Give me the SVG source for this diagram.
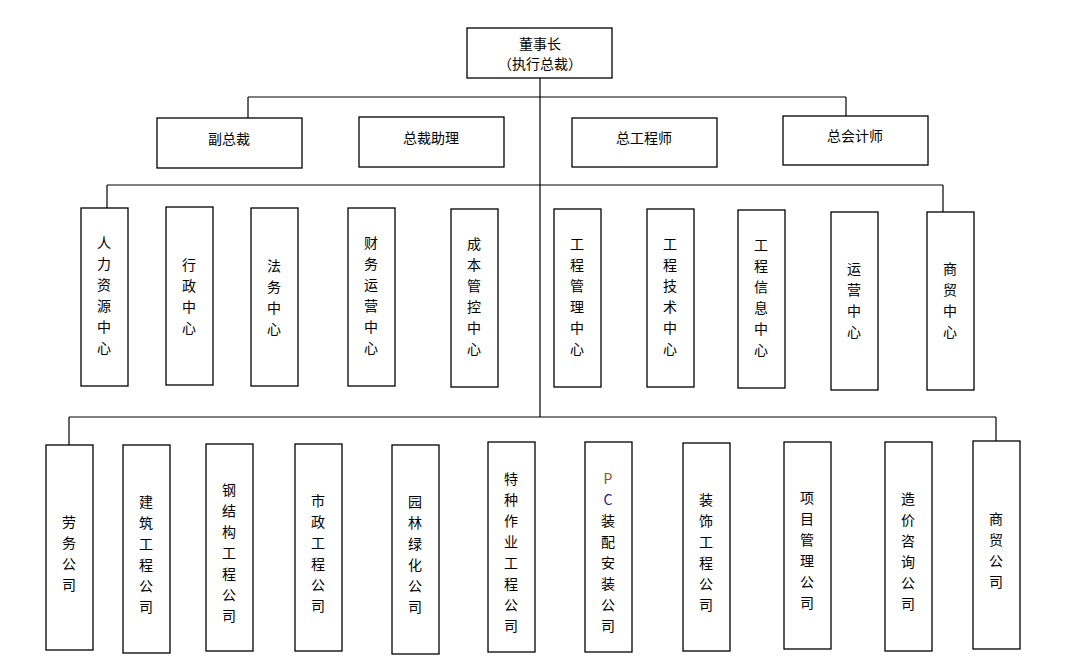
<svg xmlns="http://www.w3.org/2000/svg" width="1091" height="661" viewBox="0 0 1091 661">
<style>
rect{fill:#fff;stroke:#000;stroke-width:1.3}
.c line{stroke:#000;stroke-width:1.2}
text{font-family:"Noto Sans CJK SC","Liberation Sans",sans-serif;font-size:14px;fill:#000;text-anchor:middle}
</style>
<rect x="0" y="0" width="1091" height="661" style="stroke:none"/>
<g class="c" id="connectors">
<line x1="540" y1="78" x2="540" y2="417"/>
<line x1="248" y1="97" x2="846" y2="97"/>
<line x1="248" y1="97" x2="248" y2="118"/>
<line x1="846" y1="97" x2="846" y2="116"/>
<line x1="107" y1="185" x2="943" y2="185"/>
<line x1="107" y1="185" x2="107" y2="208"/>
<line x1="943" y1="185" x2="943" y2="212"/>
<line x1="69" y1="417" x2="996" y2="417"/>
<line x1="69" y1="417" x2="69" y2="445"/>
<line x1="996" y1="417" x2="996" y2="441"/>
</g>
<g id="n0"><rect x="467" y="28" width="145" height="50"/><text x="540" y="49">董事长</text><text x="540" y="69">（执行总裁）</text></g>
<g id="n1"><rect x="157" y="118" width="145" height="50"/><text x="229" y="144">副总裁</text></g>
<g id="n2"><rect x="359" y="117" width="145" height="50"/><text x="431" y="143">总裁助理</text></g>
<g id="n3"><rect x="572" y="118" width="145" height="49"/><text x="644" y="143">总工程师</text></g>
<g id="n4"><rect x="783" y="116" width="145" height="49"/><text x="855" y="141">总会计师</text></g>
<g id="m1"><rect x="81" y="208" width="47" height="178"/><text x="104" y="248">人</text><text x="104" y="269">力</text><text x="104" y="290">资</text><text x="104" y="311">源</text><text x="104" y="332">中</text><text x="104" y="353">心</text></g>
<g id="m2"><rect x="166" y="207" width="47" height="178"/><text x="189" y="270">行</text><text x="189" y="291">政</text><text x="189" y="312">中</text><text x="189" y="333">心</text></g>
<g id="m3"><rect x="251" y="208" width="47" height="178"/><text x="274" y="271">法</text><text x="274" y="292">务</text><text x="274" y="313">中</text><text x="274" y="334">心</text></g>
<g id="m4"><rect x="348" y="208" width="47" height="178"/><text x="371" y="248">财</text><text x="371" y="269">务</text><text x="371" y="290">运</text><text x="371" y="311">营</text><text x="371" y="332">中</text><text x="371" y="353">心</text></g>
<g id="m5"><rect x="451" y="209" width="47" height="178"/><text x="474" y="249">成</text><text x="474" y="270">本</text><text x="474" y="291">管</text><text x="474" y="312">控</text><text x="474" y="333">中</text><text x="474" y="354">心</text></g>
<g id="m6"><rect x="554" y="209" width="47" height="178"/><text x="577" y="249">工</text><text x="577" y="270">程</text><text x="577" y="291">管</text><text x="577" y="312">理</text><text x="577" y="333">中</text><text x="577" y="354">心</text></g>
<g id="m7"><rect x="647" y="209" width="47" height="178"/><text x="670" y="249">工</text><text x="670" y="270">程</text><text x="670" y="291">技</text><text x="670" y="312">术</text><text x="670" y="333">中</text><text x="670" y="354">心</text></g>
<g id="m8"><rect x="738" y="210" width="47" height="178"/><text x="761" y="250">工</text><text x="761" y="271">程</text><text x="761" y="292">信</text><text x="761" y="313">息</text><text x="761" y="334">中</text><text x="761" y="355">心</text></g>
<g id="m9"><rect x="831" y="212" width="47" height="178"/><text x="854" y="274">运</text><text x="854" y="295">营</text><text x="854" y="316">中</text><text x="854" y="337">心</text></g>
<g id="m10"><rect x="927" y="212" width="47" height="178"/><text x="950" y="274">商</text><text x="950" y="295">贸</text><text x="950" y="316">中</text><text x="950" y="337">心</text></g>
<g id="s1"><rect x="46" y="445" width="47" height="205"/><text x="69" y="527">劳</text><text x="69" y="548">务</text><text x="69" y="569">公</text><text x="69" y="590">司</text></g>
<g id="s2"><rect x="123" y="445" width="47" height="208"/><text x="146" y="507">建</text><text x="146" y="528">筑</text><text x="146" y="549">工</text><text x="146" y="570">程</text><text x="146" y="591">公</text><text x="146" y="612">司</text></g>
<g id="s3"><rect x="206" y="444" width="47" height="207"/><text x="229" y="495">钢</text><text x="229" y="516">结</text><text x="229" y="537">构</text><text x="229" y="558">工</text><text x="229" y="579">程</text><text x="229" y="600">公</text><text x="229" y="621">司</text></g>
<g id="s4"><rect x="295" y="444" width="47" height="207"/><text x="318" y="506">市</text><text x="318" y="527">政</text><text x="318" y="548">工</text><text x="318" y="569">程</text><text x="318" y="590">公</text><text x="318" y="611">司</text></g>
<g id="s5"><rect x="392" y="445" width="47" height="209"/><text x="415" y="507">园</text><text x="415" y="528">林</text><text x="415" y="549">绿</text><text x="415" y="570">化</text><text x="415" y="591">公</text><text x="415" y="612">司</text></g>
<g id="s6"><rect x="488" y="442" width="47" height="210"/><text x="511" y="484">特</text><text x="511" y="505">种</text><text x="511" y="526">作</text><text x="511" y="547">业</text><text x="511" y="568">工</text><text x="511" y="589">程</text><text x="511" y="610">公</text><text x="511" y="631">司</text></g>
<g id="s7"><rect x="585" y="442" width="47" height="210"/><text x="608" y="484" style="fill:#a04a10">P</text><text x="608" y="505" style="fill:#202080">C</text><text x="608" y="526">装</text><text x="608" y="547">配</text><text x="608" y="568">安</text><text x="608" y="589">装</text><text x="608" y="610">公</text><text x="608" y="631">司</text></g>
<g id="s8"><rect x="683" y="443" width="47" height="208"/><text x="706" y="505">装</text><text x="706" y="526">饰</text><text x="706" y="547">工</text><text x="706" y="568">程</text><text x="706" y="589">公</text><text x="706" y="610">司</text></g>
<g id="s9"><rect x="784" y="442" width="47" height="207"/><text x="807" y="503">项</text><text x="807" y="524">目</text><text x="807" y="545">管</text><text x="807" y="566">理</text><text x="807" y="587">公</text><text x="807" y="608">司</text></g>
<g id="s10"><rect x="885" y="442" width="47" height="209"/><text x="908" y="504">造</text><text x="908" y="525">价</text><text x="908" y="546">咨</text><text x="908" y="567">询</text><text x="908" y="588">公</text><text x="908" y="609">司</text></g>
<g id="s11"><rect x="973" y="441" width="47" height="208"/><text x="996" y="524">商</text><text x="996" y="545">贸</text><text x="996" y="566">公</text><text x="996" y="587">司</text></g>
</svg>
